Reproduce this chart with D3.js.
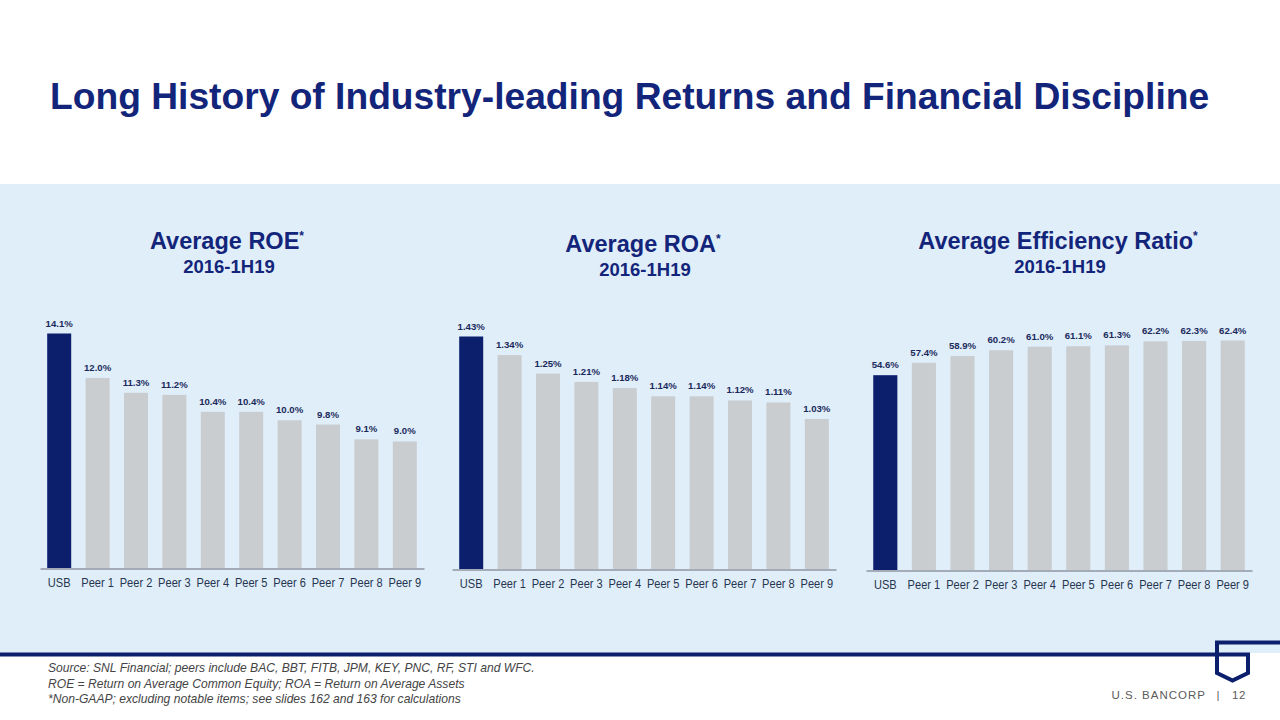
<!DOCTYPE html>
<html>
<head>
<meta charset="utf-8">
<script src="https://cdn.jsdelivr.net/npm/d3@7"></script>
<style>
  html, body { margin: 0; padding: 0; background: #ffffff; }
  svg { display: block; font-family: "Liberation Sans", Arial, sans-serif; }
</style>
</head>
<body>
<svg id="chart" width="1280" height="720"></svg>
<script>
// ---- data ----
const categories = ["USB", "Peer 1", "Peer 2", "Peer 3", "Peer 4", "Peer 5", "Peer 6", "Peer 7", "Peer 8", "Peer 9"];
const roeValues = [14.1, 12.0, 11.3, 11.2, 10.4, 10.4, 10.0, 9.8, 9.1, 9.0];
const roaValues = [1.43, 1.34, 1.25, 1.21, 1.18, 1.14, 1.14, 1.12, 1.11, 1.03];
const effValues = [54.6, 57.4, 58.9, 60.2, 61.0, 61.1, 61.3, 62.2, 62.3, 62.4];
const chartTitles = ["Average ROE", "Average ROA", "Average Efficiency Ratio"];
const chartSubtitle = "2016-1H19";
const footnotes = [
  "Source: SNL Financial; peers include BAC, BBT, FITB, JPM, KEY, PNC, RF, STI and WFC.",
  "ROE = Return on Average Common Equity; ROA = Return on Average Assets",
  "*Non-GAAP; excluding notable items; see slides 162 and 163 for calculations"
];
const mainTitle = "Long History of Industry-leading Returns and Financial Discipline";

// ---- layout ----
const NAVY = "#0c1f6d";
const GRAY_BAR = "#c9cdd0";
const svg = d3.select("#chart");

svg.append("rect").attr("x", 0).attr("y", 0).attr("width", 1280).attr("height", 720).attr("fill", "#ffffff");
svg.append("rect").attr("x", 0).attr("y", 184).attr("width", 1280).attr("height", 469).attr("fill", "#e0eef9");

svg.append("text").attr("x", 50).attr("y", 109)
  .attr("font-size", 37.2).attr("font-weight", "bold").attr("fill", "#13257a")
  .text(mainTitle);

const panels = [
  { values: roeValues, fmt: d3.format(".1f"), x0: 40, x1: 424, yMin: 3.0, base: 568.5, top: 333.5, tx: 227, ty: 249, sy: 273 },
  { values: roaValues, fmt: d3.format(".2f"), x0: 452, x1: 836, yMin: 0.30, base: 569.5, top: 336.5, tx: 643, ty: 252, sy: 276 },
  { values: effValues, fmt: d3.format(".1f"), x0: 866, x1: 1252, yMin: 10.7, base: 570.5, top: 340.5, tx: 1058, ty: 249, sy: 273 }
];

panels.forEach((p, i) => {
  const g = svg.append("g");
  const x = d3.scaleBand().domain(categories).range([p.x0, p.x1]).paddingInner(0.375).paddingOuter(0.1875);
  const maxV = d3.max(p.values);
  const y = d3.scaleLinear().domain([p.yMin, maxV]).range([p.base, p.top]);
  const data = categories.map((c, k) => ({ c, v: p.values[k], k }));

  g.selectAll("rect.bar").data(data).join("rect")
    .attr("class", "bar")
    .attr("x", d => x(d.c))
    .attr("width", x.bandwidth())
    .attr("y", d => y(d.v))
    .attr("height", d => p.base - y(d.v))
    .attr("fill", d => d.k === 0 ? NAVY : GRAY_BAR);

  g.selectAll("text.val").data(data).join("text")
    .attr("class", "val")
    .attr("x", d => x(d.c) + x.bandwidth() / 2)
    .attr("y", d => y(d.v) - 7)
    .attr("text-anchor", "middle")
    .attr("font-size", 9.6).attr("font-weight", "bold").attr("fill", "#1b2a5c")
    .text(d => p.fmt(d.v) + "%");

  const axis = d3.axisBottom(x).tickSize(0).tickPadding(9).tickSizeOuter(0);
  const ag = g.append("g").attr("transform", `translate(0,${p.base})`).call(axis);
  ag.select(".domain").attr("stroke", "#a3abb8").attr("stroke-width", 2);
  ag.selectAll("text").attr("font-size", 13.5).attr("fill", "#26354f")
    .attr("font-family", "'Liberation Sans', Arial, sans-serif")
    .attr("transform", "scale(0.82,1)");

  const t = g.append("text").attr("x", p.tx).attr("y", p.ty).attr("text-anchor", "middle")
    .attr("font-size", 23.5).attr("font-weight", "bold").attr("fill", "#13257a");
  t.append("tspan").text(chartTitles[i]);
  t.append("tspan").attr("font-size", 12).attr("dy", -9).text("*");

  g.append("text").attr("x", p.tx + 2).attr("y", p.sy).attr("text-anchor", "middle")
    .attr("font-size", 18.5).attr("font-weight", "bold").attr("fill", "#13257a")
    .text(chartSubtitle);
});

// dark rule and logo
svg.append("path")
  .attr("d", "M0,654.5 H1248 V673 L1232.5,680.5 L1217,673 V642.5 H1280")
  .attr("fill", "none").attr("stroke", NAVY).attr("stroke-width", 4).attr("stroke-linejoin", "miter");

const brand = svg.append("g").attr("font-size", 11.5).attr("fill", "#5a5a5a");
brand.append("text").attr("x", 1206).attr("y", 699).attr("text-anchor", "end").attr("letter-spacing", 1).text("U.S. BANCORP");
brand.append("text").attr("x", 1218).attr("y", 699).attr("text-anchor", "middle").text("|");
brand.append("text").attr("x", 1232).attr("y", 699).attr("text-anchor", "start").attr("letter-spacing", 0.5).text("12");

footnotes.forEach((f, i) => {
  svg.append("text").attr("x", 48).attr("y", 672 + i * 15.5)
    .attr("font-size", 12.1).attr("font-style", "italic").attr("fill", "#444444")
    .text(f);
});
</script>
</body>
</html>
